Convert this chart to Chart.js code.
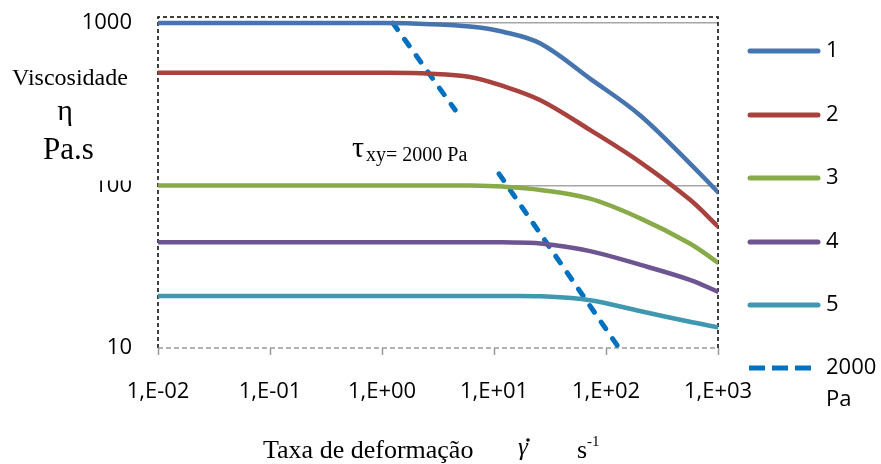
<!DOCTYPE html>
<html>
<head>
<meta charset="utf-8">
<script src="https://cdn.jsdelivr.net/npm/chart.js@4"></script>
<style>
  html, body { margin: 0; background: #fff; }
</style>
</head>
<body>
<canvas id="chart" width="881" height="464"></canvas>
<script>
// shear rate (s-1) where each curve was read
const shearRate = [0.01, 0.1, 1, 2.7, 6.1, 12, 26, 72, 200, 560, 1000]

const series1 = [1000, 1000, 1000, 985, 952, 884, 748, 455, 272, 137, 91]
const series2 = [494, 494, 494, 488, 466, 410, 335, 220, 140, 82, 56]
const series3 = [100, 100, 100, 100, 100, 98.5, 94, 83, 63, 44, 33.5]
const series4 = [44.7, 44.7, 44.7, 44.7, 44.7, 44.7, 44, 39.5, 32.6, 26.3, 22.2]
const series5 = [20.9, 20.9, 20.9, 20.9, 20.9, 20.9, 20.8, 19.7, 16.9, 14.5, 13.4]

// 2000 Pa line, broken where the label sits
const tauLineX = [1.25, 4.5, 7, 11.1, 139]
const tauLineY = [1000, 292, null, 118, 9.4]

const seriesLabels = ['1', '2', '3', '4', '5', ['2000', 'Pa']]
const seriesColors = ['#4674ae', '#a8423f', '#88aa48', '#6c5590', '#3f98b0', '#0070c0']

const xTickValues = [0.01, 0.1, 1, 10, 100, 1000]
const xTickLabels = ['1,E-02', '1,E-01', '1,E+00', '1,E+01', '1,E+02', '1,E+03']
const yTickValues = [10, 100, 1000]
const yTickLabels = ['10', '100', '1000']

const SANS = "'Open Sans', sans-serif"
const SERIF = "'Liberation Serif', 'Times New Roman', serif"

function toPoints(xs, ys) {
  return xs.map((x, i) => ({ x, y: ys[i] }))
}

const curves = [series1, series2, series3, series4, series5].map((values, i) => ({
  label: seriesLabels[i],
  data: toPoints(shearRate, values),
  borderColor: seriesColors[i],
  backgroundColor: seriesColors[i],
  borderWidth: 4.5,
  pointRadius: 0,
  tension: 0.35,
  borderCapStyle: 'round',
}))

const tauLine = {
  label: seriesLabels[5],
  data: toPoints(tauLineX, tauLineY),
  borderColor: seriesColors[5],
  backgroundColor: seriesColors[5],
  borderWidth: 5,
  borderDash: [8, 12],
  borderCapStyle: 'round',
  pointRadius: 0,
  tension: 0,
  spanGaps: false,
  clip: false,
}

// dashed frame around the plot area
const frame = {
  id: 'frame',
  beforeDatasetsDraw(chart) {
    const { ctx, chartArea: a } = chart
    ctx.save()
    ctx.lineWidth = 1.5
    ctx.setLineDash([4, 3])
    ctx.strokeStyle = '#000'
    ctx.beginPath()
    ctx.moveTo(a.left, a.bottom)
    ctx.lineTo(a.left, a.top)
    ctx.lineTo(a.right, a.top)
    ctx.lineTo(a.right, a.bottom)
    ctx.stroke()
    ctx.strokeStyle = '#9a9a9a'
    ctx.setLineDash([5, 3])
    ctx.beginPath()
    ctx.moveTo(a.left, a.bottom)
    ctx.lineTo(a.right, a.bottom)
    ctx.stroke()
    ctx.restore()
  },
}

// axis titles and the tau annotation
const annotations = {
  id: 'annotations',
  afterDraw(chart) {
    const ctx = chart.ctx
    ctx.save()
    ctx.fillStyle = '#fff'
    ctx.fillRect(0, 128, 146, 52.5)
    ctx.fillStyle = '#000'
    ctx.textBaseline = 'alphabetic'
    ctx.textAlign = 'left'

    ctx.font = `24px ${SERIF}`
    ctx.fillText('Viscosidade', 12, 85)
    ctx.font = `30px ${SERIF}`
    ctx.textAlign = 'center'
    ctx.fillText('η', 65, 120)
    ctx.textAlign = 'left'
    ctx.font = `31px ${SERIF}`
    ctx.fillText('Pa.s', 43, 159)

    ctx.font = `30px ${SERIF}`
    ctx.fillText('τ', 352, 157)
    ctx.font = `20px ${SERIF}`
    ctx.fillText('xy= 2000 Pa', 366, 161)

    ctx.font = `26px ${SERIF}`
    ctx.fillText('Taxa de deformação', 263, 458)
    ctx.font = `italic 25px ${SERIF}`
    ctx.fillText('γ', 518, 455)
    ctx.beginPath()
    ctx.arc(528, 440, 1.8, 0, Math.PI * 2)
    ctx.fill()
    ctx.font = `26px ${SERIF}`
    ctx.fillText('s', 577, 458)
    ctx.font = `15px ${SERIF}`
    ctx.fillText('-1', 587, 446)
    ctx.restore()
  },
}

// legend at the right, one row per dataset
const sideLegend = {
  id: 'sideLegend',
  afterDraw(chart) {
    const ctx = chart.ctx
    const rowY = [51, 115, 178, 242, 305, 368]
    ctx.save()
    chart.data.datasets.forEach((ds, i) => {
      const y = rowY[i]
      ctx.strokeStyle = ds.borderColor
      ctx.lineWidth = 5
      if (ds.borderDash) {
        ctx.lineCap = 'butt'
        ctx.setLineDash([16, 7])
        ctx.beginPath()
        ctx.moveTo(749, y)
        ctx.lineTo(812, y)
      } else {
        ctx.lineCap = 'round'
        ctx.setLineDash([])
        ctx.beginPath()
        ctx.moveTo(750, y)
        ctx.lineTo(818, y)
      }
      ctx.stroke()
      ctx.fillStyle = '#000'
      ctx.font = `22px ${SANS}`
      ctx.textBaseline = 'middle'
      ctx.textAlign = 'left'
      const lines = Array.isArray(ds.label) ? ds.label : [ds.label]
      lines.forEach((text, j) => ctx.fillText(text, 826, y + j * 32))
    })
    ctx.restore()
  },
}

new Chart(document.getElementById('chart'), {
  type: 'line',
  data: { datasets: [...curves, tauLine] },
  plugins: [frame, annotations, sideLegend],
  options: {
    responsive: false,
    animation: false,
    devicePixelRatio: 1,
    layout: { padding: { top: 17, right: 163, bottom: 0, left: 0 } },
    plugins: {
      legend: { display: false },
      tooltip: { enabled: false },
    },
    scales: {
      x: {
        type: 'logarithmic',
        min: 0.01,
        max: 1000,
        afterBuildTicks(scale) {
          scale.ticks = xTickValues.map((value) => ({ value }))
        },
        afterFit(scale) {
          scale.height = 116
          scale.paddingLeft = 0
          scale.paddingRight = 0
        },
        border: { display: false },
        grid: {
          drawOnChartArea: false,
          drawTicks: true,
          tickLength: 7,
          tickColor: '#9a9a9a',
          tickWidth: 1.5,
        },
        ticks: {
          autoSkip: false,
          maxRotation: 0,
          padding: 24,
          color: '#000',
          font: { family: SANS, size: 22 },
          callback: (value, index) => xTickLabels[index],
        },
      },
      y: {
        type: 'logarithmic',
        min: 10,
        max: 1090,
        afterBuildTicks(scale) {
          scale.ticks = yTickValues.map((value) => ({ value }))
        },
        afterFit(scale) {
          scale.width = 158
          scale.paddingTop = 0
          scale.paddingBottom = 0
        },
        border: { display: false },
        grid: {
          drawTicks: false,
          lineWidth: 1.5,
          color: (ctx) => (ctx.tick && ctx.tick.value === 10 ? 'rgba(0,0,0,0)' : '#a6a6a6'),
        },
        ticks: {
          autoSkip: false,
          padding: 26,
          color: '#000',
          font: { family: SANS, size: 22 },
          callback: (value, index) => yTickLabels[index],
        },
      },
    },
  },
})
</script>
</body>
</html>
